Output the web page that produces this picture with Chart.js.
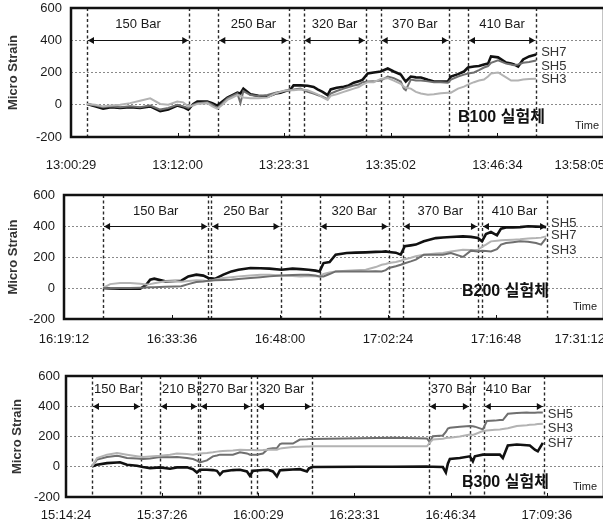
<!DOCTYPE html>
<html>
<head>
<meta charset="utf-8">
<script src="https://cdn.jsdelivr.net/npm/chart.js@4.4.1/dist/chart.umd.min.js"></script>
<style>
  html, body { margin: 0; padding: 0; background: #fff; overflow: hidden; }
  body { width: 603px; height: 528px; position: relative; }
  canvas { position: absolute; left: 0; }
</style>
</head>
<body>
<canvas id="b100" width="612" height="180" style="top:0"></canvas>
<canvas id="b200" width="612" height="175" style="top:180px"></canvas>
<canvas id="b300" width="612" height="173" style="top:355px"></canvas>
<script>
// ---- B100 : minutes after 13:00:29 ----
const b100Ticks = ['13:00:29', '13:12:00', '13:23:31', '13:35:02', '13:46:34', '13:58:05'];
const b100Time = [1.73, 2.60, 3.47, 4.33, 5.31, 6.39, 7.47, 8.56, 9.64, 10.51,
  11.48, 12.13, 12.67, 13.22, 13.65, 14.73, 15.27, 15.82, 16.36, 16.90,
  17.44, 17.98, 18.31, 18.63, 19.39, 20.26, 21.23, 22.10, 22.64, 23.18,
  23.72, 24.05, 24.81, 25.57, 26.22, 26.65, 27.19, 27.73, 28.06, 28.71,
  29.47, 30.01, 30.55, 31.09, 31.52, 32.07, 32.72, 33.47, 34.23, 34.88,
  35.64, 35.97, 36.18, 36.72, 37.27, 37.81, 38.57, 39.22, 39.97, 40.73,
  41.06, 41.82, 42.47, 42.90, 43.55, 44.09, 44.63, 45.07, 45.39, 46.15,
  47.02, 47.56, 47.88, 48.32, 48.86, 49.51, 50.27];
const b100SH7 = [5, -10, -25, -15, -20, -15, -20, -10, -40, -30,
  -5, -15, -30, 5, 20, 20, 10, -5, 20, 45,
  60, 75, 70, 100, 65, 55, 50, 70, 75, 85,
  95, 120, 120, 118, 110, 95, 80, 60, 95, 105,
  112, 120, 137, 145, 156, 194, 200, 206, 225, 206,
  187, 160, 144, 175, 170, 169, 155, 144, 144, 144,
  175, 190, 206, 231, 237, 240, 250, 255, 300, 294,
  262, 255, 250, 237, 281, 300, 312];
const b100SH5 = [5, -5, -15, -10, -15, -10, -15, -5, -30, -20,
  0, -10, -20, 0, 10, 15, 0, -20, 10, 40,
  55, 70, 10, 85, 60, 55, 60, 75, 80, 85,
  90, 95, 100, 80, 70, 60, 50, 35, 70, 85,
  100, 110, 119, 125, 140, 144, 145, 150, 175, 165,
  144, 100, 90, 156, 150, 150, 145, 140, 140, 137,
  156, 175, 187, 194, 200, 215, 231, 240, 260, 275,
  255, 250, 245, 250, 260, 265, 275];
const b100SH3 = [5, 0, -10, -5, 0, 10, 25, 40, 5, 0,
  20, 15, -10, -5, 5, 10, -10, -25, 0, 30,
  45, 60, 55, 45, 40, 40, 45, 70, 80, 90,
  90, 90, 95, 90, 75, 65, 45, 30, 55, 65,
  80, 90, 100, 110, 125, 140, 140, 160, 165, 150,
  130, 112, 105, 100, 80, 70, 62, 65, 72, 75,
  75, 100, 112, 125, 140, 150, 156, 175, 194, 200,
  170, 150, 150, 150, 156, 160, 162];
const b100Stages = ['150 Bar', '250 Bar', '320 Bar', '370 Bar', '410 Bar'];
const b100StageStart = [1.73, 15.92, 25.13, 33.47, 42.90];
const b100StageEnd = [12.78, 23.51, 31.85, 40.84, 50.27];

// ---- B200 : minutes after 16:19:12 ----
const b200Ticks = ['16:19:12', '16:33:36', '16:48:00', '17:02:24', '17:16:48', '17:31:12'];
const b200Time = [5.21, 6.15, 7.48, 8.82, 10.16, 10.96, 11.49, 12.03, 13.50, 14.83,
  15.64, 16.57, 17.64, 18.58, 19.24, 20.18, 21.25, 22.32, 23.25, 24.86,
  26.19, 27.40, 29.00, 30.47, 31.54, 32.61, 33.54, 34.08, 34.61, 35.41,
  36.22, 37.69, 38.89, 40.23, 41.56, 42.36, 42.90, 43.30, 44.24, 44.90,
  45.44, 46.24, 46.91, 47.98, 49.58, 50.52, 51.59, 53.19, 54.26, 55.19,
  55.73, 56.26, 56.93, 57.73, 58.27, 58.94, 59.87, 60.81, 61.88, 62.94,
  63.61, 64.28];
const b200SH5 = [0, -3, -5, -5, -5, 20, 54, 60, 43, 45,
  47, 75, 86, 80, 65, 60, 86, 107, 118, 129,
  127, 125, 118, 125, 122, 118, 112, 107, 161, 168,
  215, 226, 228, 230, 233, 234, 236, 232, 228, 215,
  269, 275, 280, 301, 322, 326, 329, 333, 330, 322,
  301, 348, 361, 340, 383, 390, 391, 393, 398, 396,
  395, 393];
const b200SH7 = [0, 25, 32, 32, 28, 22, 25, 30, 43, 45,
  40, 45, 50, 48, 43, 55, 65, 70, 75, 80,
  85, 86, 80, 78, 75, 78, 76, 75, 90, 100,
  107, 112, 115, 118, 135, 150, 155, 161, 168, 176,
  185, 195, 205, 215, 222, 226, 235, 247, 245, 247,
  265, 280, 301, 305, 308, 310, 312, 315, 320, 322,
  325, 333];
const b200SH3 = [0, -2, 0, 0, 2, 4, 5, 5, 8, 10,
  11, 25, 39, 42, 47, 50, 52, 54, 58, 65,
  70, 75, 80, 84, 86, 86, 80, 75, 75, 90,
  107, 107, 106, 107, 108, 107, 115, 129, 140, 150,
  160, 172, 183, 215, 215, 215, 225, 200, 241, 236,
  240, 238, 236, 250, 280, 290, 295, 301, 298, 290,
  280, 322];
const b200Stages = ['150 Bar', '250 Bar', '320 Bar', '370 Bar', '410 Bar'];
const b200StageStart = [5.21, 19.65, 34.08, 45.17, 55.73];
const b200StageEnd = [19.24, 28.87, 43.30, 55.19, 64.41];

// ---- B300 : minutes after 15:14:24 ----
const b300Ticks = ['15:14:24', '15:37:26', '16:00:29', '16:23:31', '16:46:34', '17:09:36'];
const b300AxisEnd = '17:23:18';
const b300Time = [6.23, 7.42, 9.82, 12.21, 12.93, 14.61, 17.00, 18.44, 20.12, 22.51,
  24.91, 26.58, 28.98, 30.42, 31.37, 32.09, 33.77, 35.20, 36.16, 36.88,
  37.60, 39.99, 41.67, 43.35, 44.07, 44.79, 45.74, 47.18, 48.38, 49.58,
  50.53, 51.25, 51.73, 54.37, 56.04, 57.72, 58.20, 59.16, 70.41, 78.32,
  86.46, 87.18, 87.90, 90.29, 91.01, 91.49, 91.97, 94.36, 96.76, 97.48,
  97.96, 99.87, 100.83, 102.75, 103.95, 104.66, 105.86, 108.01, 110.41, 111.13,
  112.33, 113.04, 114.24];
const b300SH7 = [2, 13, 24, 28, 29, 13, 7, -2, -9, -4,
  -13, -4, -4, -16, -38, -20, -20, -22, -27, -53,
  -31, -22, -20, -31, -60, -27, -25, -22, -20, -31,
  -64, -24, -22, -18, -16, -31, -11, -2, 0, 0,
  2, 0, 0, -2, -38, 20, 51, 58, 69, 36,
  69, 80, 80, 80, 80, 58, 140, 147, 142, 140,
  113, 102, 158];
const b300SH5 = [2, 47, 64, 73, 70, 58, 55, 51, 55, 64,
  62, 64, 58, 51, 40, 29, 42, 69, 75, 80,
  80, 80, 96, 88, 80, 80, 80, 87, 118, 122,
  124, 150, 153, 153, 180, 182, 183, 184, 189, 191,
  187, 162, 202, 207, 230, 253, 258, 264, 269, 267,
  265, 247, 302, 305, 309, 309, 350, 355, 358, 357,
  357, 358, 358];
const b300SH3 = [2, 58, 80, 91, 88, 80, 70, 64, 68, 73,
  80, 87, 84, 80, 85, 88, 91, 96, 100, 102,
  104, 108, 113, 111, 110, 110, 109, 110, 113, 113,
  113, 120, 122, 131, 133, 134, 134, 135, 135, 135,
  135, 160, 180, 185, 190, 192, 191, 200, 213, 210,
  215, 236, 240, 245, 247, 250, 255, 269, 275, 278,
  280, 282, 284];
const b300Stages = ['150 Bar', '210 Bar', '270 Bar', '320 Bar', '370 Bar', '410 Bar'];
const b300StageStart = [6.23, 22.51, 32.09, 45.74, 86.94, 100.11];
const b300StageEnd = [17.96, 31.61, 44.31, 58.92, 96.76, 114.48];

const strainTicks = [-200, 0, 200, 400, 600];

const FONT = '"Liberation Sans", Arial, "Noto Sans CJK KR", sans-serif';
const BLACK = '#111111', DARK = '#6f6f6f', LIGHT = '#b3b3b3';

function secs(s) {
  const [h, m, sec] = s.split(':').map(Number);
  return h * 3600 + m * 60 + sec;
}
// minutes between the first tick label and another clock time
function minutesFrom(start, t) {
  return (secs(t) - secs(start)) / 60;
}

// frame, stage markers, time labels and annotations
const panelDecor = {
  id: 'panelDecor',
  beforeDatasetsDraw(chart, args, o) {
    const { ctx, chartArea: a, scales: { x, y } } = chart;
    ctx.save();
    // stage names
    ctx.font = '13px ' + FONT;
    ctx.textBaseline = 'middle';
    o.stages.forEach((name, i) => {
      const x0 = x.getPixelForValue(o.start[i]);
      const x1 = x.getPixelForValue(o.end[i]);
      const w = ctx.measureText(name).width;
      const tx = o.leftLabels ? x0 + 2 : (x0 + x1 - w) / 2;
      const ty = a.top + o.labelGap;
      ctx.fillStyle = '#fff';
      ctx.fillRect(tx - 1, ty - 8, w + 2, 16);
      ctx.fillStyle = '#1a1a1a';
      ctx.fillText(name, tx, ty);
    });
    // dotted stage boundaries
    ctx.strokeStyle = '#2b2b2b';
    ctx.lineWidth = 1.4;
    ctx.setLineDash([3, 2.5]);
    o.start.concat(o.end).forEach(t => {
      const px = Math.round(x.getPixelForValue(t)) + 0.5;
      ctx.beginPath();
      ctx.moveTo(px, a.top);
      ctx.lineTo(px, a.bottom);
      ctx.stroke();
    });
    ctx.setLineDash([]);
    // double-headed arrows at 400
    const ay = Math.round(y.getPixelForValue(400)) + 0.5;
    ctx.strokeStyle = '#111';
    ctx.fillStyle = '#111';
    ctx.lineWidth = 1;
    o.start.forEach((t, i) => {
      const x0 = x.getPixelForValue(t) + 1;
      const x1 = x.getPixelForValue(o.end[i]) - 1;
      ctx.beginPath();
      ctx.moveTo(x0, ay);
      ctx.lineTo(x1, ay);
      ctx.stroke();
      ctx.beginPath();
      ctx.moveTo(x0, ay);
      ctx.lineTo(x0 + 6, ay - 3.5);
      ctx.lineTo(x0 + 6, ay + 3.5);
      ctx.closePath();
      ctx.fill();
      ctx.beginPath();
      ctx.moveTo(x1, ay);
      ctx.lineTo(x1 - 6, ay - 3.5);
      ctx.lineTo(x1 - 6, ay + 3.5);
      ctx.closePath();
      ctx.fill();
    });
    ctx.restore();
  },
  afterDraw(chart, args, o) {
    const { ctx, chartArea: a, scales: { x, y } } = chart;
    ctx.save();
    // heavy frame round the plot
    ctx.strokeStyle = '#111';
    ctx.lineWidth = 2.5;
    ctx.strokeRect(a.left, a.top, a.right - a.left, a.bottom - a.top);
    // time labels and small inner ticks
    ctx.font = '13px ' + FONT;
    ctx.textBaseline = 'middle';
    ctx.fillStyle = '#1a1a1a';
    ctx.lineWidth = 1;
    o.ticks.forEach(label => {
      const px = x.getPixelForValue(minutesFrom(o.ticks[0], label));
      ctx.beginPath();
      ctx.moveTo(Math.round(px) + 0.5, a.bottom);
      ctx.lineTo(Math.round(px) + 0.5, a.bottom - 4);
      ctx.stroke();
      const w = ctx.measureText(label).width;
      let left = px - w / 2;
      if (left + w > 605) left = 605 - w;
      ctx.fillText(label, left, a.bottom + o.tickGap);
    });
    // series names at the line ends
    ctx.font = '13px ' + FONT;
    ctx.fillStyle = '#333';
    const lastT = chart.data.datasets[0].data.slice(-1)[0].x;
    const lx = x.getPixelForValue(lastT) + 5;
    o.seriesNames.forEach((name, i) => {
      ctx.fillText(name, lx, y.getPixelForValue(o.seriesAt[i]));
    });
    // specimen name and axis word
    ctx.font = 'bold 16px ' + FONT;
    ctx.fillStyle = '#111';
    ctx.fillText(o.specimen, o.specimenPos[0], o.specimenPos[1]);
    ctx.font = '11px ' + FONT;
    ctx.fillStyle = '#222';
    ctx.fillText('Time', o.timePos[0], o.timePos[1]);
    ctx.restore();
  }
};

function series(times, values, label, color, width) {
  return {
    label: label,
    data: times.map((t, i) => ({ x: t, y: values[i] })),
    borderColor: color,
    borderWidth: width,
    pointRadius: 0,
    tension: 0,
    fill: false
  };
}

function makePanel(id, p) {
  new Chart(document.getElementById(id), {
    type: 'line',
    data: { datasets: p.datasets },
    options: {
      responsive: false,
      animation: false,
      layout: { padding: { top: p.top, right: 8, bottom: 0, left: 0 } },
      plugins: {
        legend: { display: false },
        tooltip: { enabled: false },
        panelDecor: p.decor
      },
      scales: {
        x: {
          type: 'linear',
          min: 0,
          max: p.xMax,
          ticks: { display: false },
          grid: { display: false },
          border: { display: false },
          afterFit(s) {
            s.height = p.height - p.bottom;
            s.paddingLeft = 0;
            s.paddingRight = 0;
          }
        },
        y: {
          min: -200,
          max: 600,
          afterBuildTicks(s) { s.ticks = strainTicks.map(v => ({ value: v })); },
          ticks: {
            padding: p.tickPad,
            color: '#1a1a1a',
            font: { family: FONT, size: 13 }
          },
          grid: {
            drawTicks: false,
            lineWidth: 1,
            color: c => (c.tick && (c.tick.value === 600 || c.tick.value === -200)) ? 'rgba(0,0,0,0)' : '#8a8a8a'
          },
          border: { display: false, dash: [2, 2] },
          title: {
            display: true,
            text: 'Micro Strain',
            color: '#333',
            font: { family: FONT, size: 13, weight: 'bold' },
            padding: { top: p.titlePad, bottom: 0 }
          },
          afterFit(s) {
            s.width = p.left;
            s.paddingTop = 0;
            s.paddingBottom = 0;
          }
        }
      }
    },
    plugins: [panelDecor]
  });
}

makePanel('b100', {
  top: 8, bottom: 137, left: 71, height: 180, tickPad: 9, titlePad: 6,
  xMax: minutesFrom(b100Ticks[0], b100Ticks[5]),
  datasets: [
    series(b100Time, b100SH3, 'SH3', LIGHT, 2),
    series(b100Time, b100SH5, 'SH5', DARK, 2),
    series(b100Time, b100SH7, 'SH7', BLACK, 2.6)
  ],
  decor: {
    stages: b100Stages, start: b100StageStart, end: b100StageEnd,
    leftLabels: false, labelGap: 16, ticks: b100Ticks, tickGap: 28,
    seriesNames: ['SH7', 'SH5', 'SH3'], seriesAt: [325, 237, 156],
    specimen: 'B100 실험체', specimenPos: [458, 118], timePos: [575, 126]
  }
});

makePanel('b200', {
  top: 15, bottom: 139, left: 64, height: 175, tickPad: 9, titlePad: 6,
  xMax: minutesFrom(b200Ticks[0], b200Ticks[5]),
  datasets: [
    series(b200Time, b200SH3, 'SH3', DARK, 2),
    series(b200Time, b200SH7, 'SH7', LIGHT, 2),
    series(b200Time, b200SH5, 'SH5', BLACK, 2.6)
  ],
  decor: {
    stages: b200Stages, start: b200StageStart, end: b200StageEnd,
    leftLabels: false, labelGap: 16, ticks: b200Ticks, tickGap: 20,
    seriesNames: ['SH5', 'SH7', 'SH3'], seriesAt: [419, 342, 245],
    specimen: 'B200 실험체', specimenPos: [462, 112], timePos: [573, 127]
  }
});

makePanel('b300', {
  top: 21, bottom: 142, left: 66, height: 173, tickPad: 6, titlePad: 10,
  xMax: minutesFrom(b300Ticks[0], b300AxisEnd),
  datasets: [
    series(b300Time, b300SH3, 'SH3', LIGHT, 2),
    series(b300Time, b300SH5, 'SH5', DARK, 2),
    series(b300Time, b300SH7, 'SH7', BLACK, 2.6)
  ],
  decor: {
    stages: b300Stages, start: b300StageStart, end: b300StageEnd,
    leftLabels: true, labelGap: 13, ticks: b300Ticks, tickGap: 18,
    seriesNames: ['SH5', 'SH3', 'SH7'], seriesAt: [347, 253, 153],
    specimen: 'B300 실험체', specimenPos: [462, 128], timePos: [573, 132]
  }
});
</script>
</body>
</html>
